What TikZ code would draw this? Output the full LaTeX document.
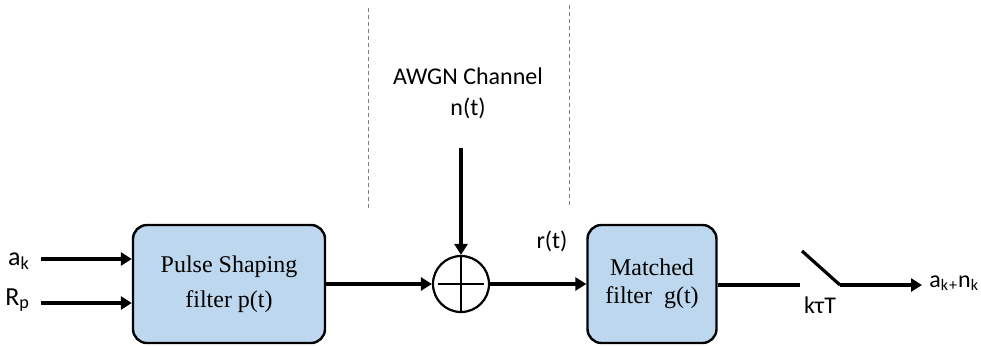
\documentclass[tikz,border=0pt]{standalone}
\usepackage{fontspec}
\setmainfont{Liberation Serif}
\newfontfamily\lblfont{Carlito}
\usepackage{xcolor}
\usetikzlibrary{arrows.meta,positioning}
\definecolor{boxblue}{HTML}{BDD7EE}

\begin{document}
\begin{tikzpicture}[x=0.5pt,y=-0.5pt,
	block/.style={draw,line width=1.2pt,fill=boxblue,rounded corners=7pt,minimum height=59pt,align=center},
	lbl/.style={font=\lblfont\fontsize{12}{15.5}\selectfont},
	sig/.style={line width=1.6pt},
	arr/.style={sig,-{Triangle[length=5.5pt,width=6.5pt]}}]
		\useasboundingbox (0,0) rectangle (981,345);
		% channel border
		\draw[gray,line width=0.5pt,dash pattern=on 2pt off 1.5pt] (368,8) -- (368,210);
		\draw[gray,line width=0.5pt,dash pattern=on 2pt off 1.5pt] (569,5) -- (569,207);
		% blocks
		\node[block,minimum width=96pt,font=\fontsize{12}{17.5}\selectfont] (psf) at (229,284) {Pulse Shaping\\filter p(t)};
		\node[block,minimum width=64.5pt,font=\fontsize{12}{14}\selectfont] (mf) at (652,284) {Matched\\filter\enspace g(t)};
		\node[draw,circle,line width=1.1pt,minimum size=28pt,inner sep=0pt] (sum) at (461,284) {};
		\draw[line width=1.1pt] (sum.north) -- (sum.south);
		\draw[line width=1.1pt] ([xshift=3pt]sum.west) -- ([xshift=-3pt]sum.east);
		% inputs
		\coordinate (ain) at (41,259);
		\coordinate (rin) at (41,303);
		\node[lbl,font=\lblfont\fontsize{13}{15}\selectfont,anchor=base east] (ak) at (37,265) {a\textsubscript{k}};
		\node[lbl,font=\lblfont\fontsize{13}{15}\selectfont,anchor=base east] (rp) at (37,305) {R\textsubscript{p}};
		\draw[arr] (ain) -- (ain -| psf.west);
		\draw[arr] (rin) -- (rin -| psf.west);
		% channel
		\node[lbl,align=center] (awgn) at (468,93) {AWGN Channel\\n(t)};
		\coordinate (noise) at (461,148);
		\draw[arr] (noise) -- (sum.north);
		\draw[arr] (psf.east |- sum.west) -- (sum.west);
		\draw[arr] (sum.east) -- (sum.east -| mf.west);
		\node[lbl,anchor=base] (rt) at (552,248) {r(t)};
		% sampler
		\coordinate (sw1) at (800,285);
		\coordinate (sw2) at (840,285);
		\coordinate (out) at (922,285);
		\draw[sig] (mf.east |- sw1) -- (sw1);
		\draw[sig] (802,251) -- (sw2);
		\draw[arr] (sw2) -- (out);
		\node[lbl,anchor=base] (kt) at (820,313) {kτT};
		\node[lbl,anchor=base west,inner sep=0pt] (ank) at (929,287) {a\textsubscript{k\kern0.5pt+}n\textsubscript{k}};
	\end{tikzpicture}
\end{document}
